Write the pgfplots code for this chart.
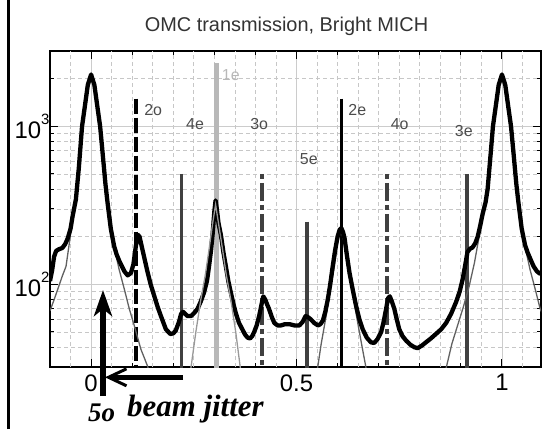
\documentclass[border=0pt]{standalone}
\usepackage{fontspec}
\setmainfont{Liberation Sans}
\newfontfamily\serifbi{Liberation Serif}
\usepackage{pgfplots}
\pgfplotsset{compat=1.18}
\usetikzlibrary{arrows.meta}

\definecolor{gridmaj}{gray}{0.80}
\definecolor{gridmin}{gray}{0.78}
\definecolor{modedark}{gray}{0.25}
\definecolor{modelight}{gray}{0.72}
\definecolor{fitgray}{gray}{0.38}
\definecolor{fitlight}{gray}{0.60}
\definecolor{labelgray}{gray}{0.30}

\begin{document}
\begin{tikzpicture}[x=1bp,y=1bp]
\useasboundingbox (0,0) rectangle (543,429);
\begin{axis}[
  at={(50bp,62bp)}, anchor=south west,
  scale only axis, width=491bp, height=316bp,
  xmin=-0.1, xmax=1.095,
  ymode=log, ymin=30, ymax=3000,
  xtick={0,0.5,1}, xticklabels={0,0.5,1},
  minor xtick={0.1,0.2,0.3,0.4,0.6,0.7,0.8,0.9},
  extra x ticks={-0.05,0.05,0.15,0.25,0.35,0.45,0.55,0.65,0.75,0.85,0.95,1.05},
  extra x tick labels={},
  extra x tick style={grid=major, major tick length=0pt,
    major grid style={gridmin, line width=0.8bp, dash pattern=on 4bp off 3bp}},
  ytick={100,1000},
  yticklabels={10\raisebox{0.6em}{\fontsize{15}{15}\selectfont 2},10\raisebox{0.6em}{\fontsize{15}{15}\selectfont 3}},
  minor ytick={40,50,60,70,80,90,200,300,400,500,600,700,800,900,2000},
  grid=both,
  major grid style={gridmaj, line width=0.8bp},
  minor grid style={gridmin, line width=0.8bp, dash pattern=on 4bp off 3bp},
  tick align=inside,
  major tick length=8bp, minor tick length=4bp,
  tick style={black, line width=1bp},
  axis line style={black, line width=1.6bp},
  tick label style={font=\fontsize{24}{26}\selectfont},
  xticklabel style={yshift=-4bp},
  yticklabel style={xshift=3bp},
]
% mode positions (top value first so the dash pattern starts at the top)
\addplot[black, line width=4bp, dash pattern=on 15bp off 4bp] coordinates {(0.11,1500) (0.11,10)};
\addplot[modedark, line width=3.5bp] coordinates {(0.22,500) (0.22,10)};
\addplot[modelight, line width=4.5bp] coordinates {(0.305,2500) (0.305,10)};
\addplot[modedark, line width=4bp, dash pattern=on 5bp off 4bp on 18bp off 4bp] coordinates {(0.415,500) (0.415,10)};
\addplot[modedark, line width=3.5bp] coordinates {(0.525,250) (0.525,10)};
\addplot[black, line width=3bp] coordinates {(0.61,1500) (0.61,10)};
\addplot[modedark, line width=4bp, dash pattern=on 5bp off 4bp on 18bp off 4bp] coordinates {(0.72,500) (0.72,10)};
\addplot[modedark, line width=3.5bp] coordinates {(0.915,500) (0.915,10)};

% model curves under the measured one
\addplot[fitgray, line width=1.3bp] coordinates {
(-0.1,68) (-0.09,80) (-0.08,95) (-0.07,113) (-0.061,130) (-0.052,190)
(-0.045,270) (-0.037,345) (-0.03,540) (-0.022,1000) (-0.015,1350)
(-0.008,1830) (0,2130) (0.008,1830) (0.015,1350) (0.022,1000) (0.028,680)
(0.035,430) (0.04,330) (0.048,225) (0.056,174) (0.068,125) (0.081,93)
(0.093,70) (0.105,55) (0.121,39) (0.137,30.6) (0.145,26)
};
\addplot[fitgray, line width=1.3bp] coordinates {
(0.548,26) (0.56,42) (0.572,63) (0.582,92) (0.592,130) (0.6,185) (0.608,220)
(0.616,185) (0.629,118) (0.639,80) (0.649,57) (0.659,41) (0.672,27)
};
\addplot[fitgray, line width=1.3bp] coordinates {
(0.862,28) (0.878,42) (0.892,55) (0.906,72) (0.92,97) (0.933,137) (0.945,205)
(0.953,280) (0.96,330) (0.965,400) (0.972,650) (0.978,1000) (0.985,1350)
(0.992,1830) (1,2130) (1.008,1830) (1.015,1350) (1.022,1000) (1.028,680)
(1.035,430) (1.04,330) (1.048,225) (1.056,174) (1.068,125) (1.081,93)
(1.093,70) (1.1,64)
};

% measured transmission
\addplot[black, line width=4.3bp, line join=round] coordinates {
(-0.1,105) (-0.095,122) (-0.09,150) (-0.085,163) (-0.078,167) (-0.07,170)
(-0.063,180) (-0.057,195) (-0.05,225) (-0.045,270) (-0.037,345) (-0.03,540)
(-0.022,1000) (-0.015,1350) (-0.008,1830) (0,2130) (0.008,1830) (0.015,1350)
(0.022,1000) (0.028,680) (0.035,430) (0.04,330) (0.048,225) (0.056,175)
(0.062,155) (0.069,140) (0.081,121) (0.089,114) (0.097,118) (0.103,134)
(0.109,175) (0.114,206) (0.118,200) (0.125,166) (0.137,121) (0.145,100)
(0.154,84) (0.162,72) (0.17,63) (0.182,52) (0.193,48.5) (0.2,49) (0.206,51)
(0.214,58) (0.219,65) (0.224,67) (0.229,65) (0.235,63) (0.243,63) (0.251,66)
(0.259,70) (0.267,78) (0.275,89) (0.282,105) (0.287,130) (0.292,165)
(0.296,211) (0.3,290) (0.303,340) (0.306,300) (0.31,245) (0.316,205)
(0.322,160) (0.328,130) (0.334,105) (0.34,89) (0.346,76) (0.352,66)
(0.36,57) (0.368,52) (0.375,48) (0.381,46) (0.387,45.5) (0.392,47) (0.397,50)
(0.403,55) (0.409,63) (0.415,75) (0.419,84) (0.424,80) (0.429,74) (0.433,70)
(0.44,62) (0.446,57) (0.454,55) (0.462,55) (0.472,56) (0.483,56) (0.495,55)
(0.507,55) (0.515,58) (0.522,63) (0.528,62) (0.535,60) (0.543,57) (0.552,55)
(0.558,56) (0.564,59) (0.57,67) (0.576,80) (0.582,100) (0.588,130) (0.594,165)
(0.6,201) (0.605,222) (0.609,227) (0.613,215) (0.617,195) (0.623,150)
(0.629,118) (0.637,92) (0.645,73) (0.653,60) (0.661,52) (0.671,46) (0.681,43)
(0.689,42.6) (0.697,45) (0.706,50) (0.712,58) (0.718,70) (0.723,82) (0.727,84)
(0.732,78) (0.738,70) (0.744,60) (0.75,52) (0.758,47) (0.767,44) (0.777,41.5)
(0.787,40) (0.795,39.5) (0.805,41) (0.815,43) (0.827,45.5) (0.839,48.5)
(0.852,52) (0.864,57) (0.876,65) (0.888,77) (0.897,90) (0.904,107) (0.91,130)
(0.916,160) (0.922,168) (0.928,171) (0.935,182) (0.941,201) (0.947,235)
(0.953,280) (0.96,330) (0.965,400) (0.972,650) (0.978,1000) (0.985,1350)
(0.992,1830) (1,2130) (1.008,1830) (1.015,1350) (1.022,1000) (1.028,680)
(1.035,430) (1.04,330) (1.048,225) (1.056,178) (1.062,160) (1.069,145)
(1.077,130) (1.085,121) (1.092,117) (1.1,118)
};

% 1e model, drawn over the measured curve
\addplot[fitlight, line width=1.3bp] coordinates {
(0.24,26) (0.255,50) (0.267,80) (0.278,115) (0.287,166) (0.296,245)
(0.303,320) (0.31,245) (0.32,166) (0.329,115) (0.34,80) (0.352,50) (0.366,26)
};

% mode names
\begin{scope}[every node/.style={font=\fontsize{16}{17}\selectfont, text=labelgray, inner sep=0}]
\node at (axis cs:0.151,1262) {2o};
\node at (axis cs:0.253,1032) {4e};
\node[text=modelight] at (axis cs:0.34,2104) {1e};
\node at (axis cs:0.409,1032) {3o};
\node at (axis cs:0.53,619) {5e};
\node at (axis cs:0.648,1262) {2e};
\node at (axis cs:0.751,1032) {4o};
\node at (axis cs:0.907,930) {3e};
\end{scope}
\end{axis}

\node[anchor=base, inner sep=0, font=\fontsize{20}{22}\selectfont, text=black!80] at (286.5,397) {OMC transmission, Bright MICH};
\draw[line width=3bp] (8.3,0) -- (8.3,429);
\draw[line width=5.5bp, -{Stealth[length=26bp,width=18bp,inset=7bp]}] (103,33) -- (103,139);
\draw[line width=5bp, -{Straight Barb[length=18bp,width=17bp,line width=3bp]}] (183,51.7) -- (105,51.7);
\node[anchor=base west, inner sep=0, font=\serifbi\bfseries\itshape\fontsize{31}{31}\selectfont] at (127,12.6) {beam jitter};
\node[anchor=base west, inner sep=0, font=\serifbi\bfseries\itshape\fontsize{27}{27}\selectfont] at (88,8) {5o};
\end{tikzpicture}
\end{document}
